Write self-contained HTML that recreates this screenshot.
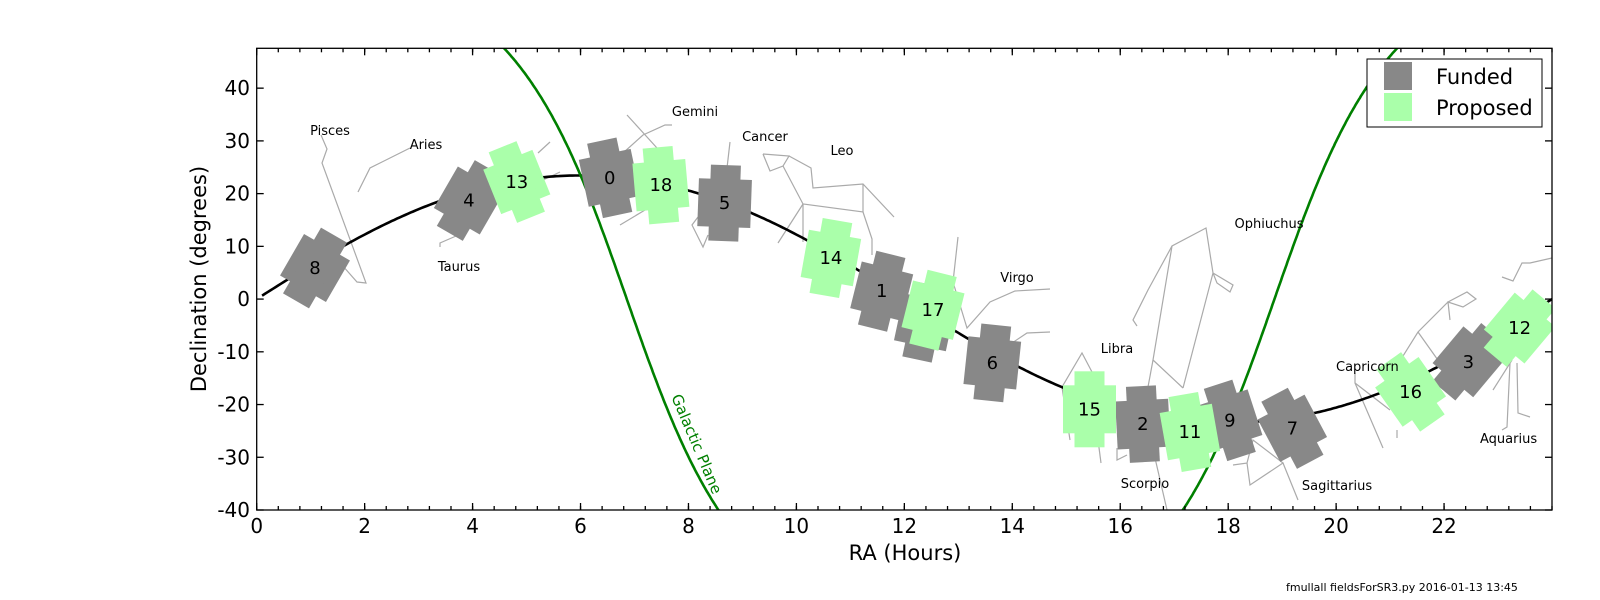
<!DOCTYPE html>
<html><head><meta charset="utf-8"><style>
html,body{margin:0;padding:0;background:#fff;width:1600px;height:600px;overflow:hidden}
svg{display:block}
text{font-family:"DejaVu Sans","Liberation Sans",sans-serif}
</style></head><body>
<svg id="chart" width="1600" height="600" viewBox="0 0 1600 600" xmlns="http://www.w3.org/2000/svg">
<defs><clipPath id="plotclip"><rect x="256.7" y="48.3" width="1295.3" height="461.7"/></clipPath></defs>
<g id="constellations" clip-path="url(#plotclip)" fill="none" stroke="#aaaaaa" stroke-width="1.2">
<polyline points="321,135 327,149 322,163 366,283 357,282 342,265"/>
<polyline points="410,148 370,168 358,192"/>
<polyline points="440,247 440,243 463,233"/>
<polyline points="538,153 550,142"/>
<polyline points="543,180 560,172"/>
<polyline points="627,115 657,148"/>
<polyline points="623,153 643,135 665,125 672,125"/>
<polyline points="620,225 645,210"/>
<polyline points="730,142 727,168"/>
<polyline points="698,217 692,225 703,247 708,235"/>
<polyline points="763,154 789,156 783,166 770,171 763,154"/>
<polyline points="789,156 811,168 813,188 863,184 894,217"/>
<polyline points="863,184 863,212 803,204 783,166"/>
<polyline points="803,204 803,242"/>
<polyline points="803,204 778,243"/>
<polyline points="863,212 872,239 872,255"/>
<polyline points="958,237 953,282 967,328 990,302 1015,291 1050,289"/>
<polyline points="1012,343 1027,333 1050,332"/>
<polyline points="1137,326 1133,320 1148,290 1172,246 1206,228 1213,273 1233,285 1230,292 1217,283 1213,273 1183,388"/>
<polyline points="1172,246 1153,360 1183,388"/>
<polyline points="1153,360 1148,387"/>
<polyline points="1062,387 1082,353 1092,372"/>
<polyline points="1062,387 1070,440"/>
<polyline points="1098,440 1101,463"/>
<polyline points="1117,448 1117,460 1127,455"/>
<polyline points="1155,458 1167,510"/>
<polyline points="1233,465 1247,463 1250,485 1283,463 1253,440 1247,463"/>
<polyline points="1283,463 1298,500"/>
<polyline points="1355,373 1355,383 1383,448"/>
<polyline points="1355,383 1390,410"/>
<polyline points="1397,430 1397,438"/>
<polyline points="1388,380 1418,332 1448,302 1467,292 1476,299 1463,307 1448,302 1450,320"/>
<polyline points="1418,332 1440,363"/>
<polyline points="1502,277 1513,281 1522,263 1530,263 1552,258"/>
<polyline points="1510,363 1507,427 1502,430"/>
<polyline points="1517,363 1518,413 1530,417"/>
<polyline points="1512,360 1493,390"/>
</g>
<g id="curves" clip-path="url(#plotclip)"></g>
<g id="fields" clip-path="url(#plotclip)"></g>
<g id="labels" font-size="13" fill="#000">
<text x="330" y="135" text-anchor="middle">Pisces</text>
<text x="426" y="149" text-anchor="middle">Aries</text>
<text x="459" y="271" text-anchor="middle">Taurus</text>
<text x="695" y="116" text-anchor="middle">Gemini</text>
<text x="765" y="141" text-anchor="middle">Cancer</text>
<text x="842" y="155" text-anchor="middle">Leo</text>
<text x="1017" y="282" text-anchor="middle">Virgo</text>
<text x="1117" y="353" text-anchor="middle">Libra</text>
<text x="1269" y="228" text-anchor="middle">Ophiuchus</text>
<text x="1145" y="488" text-anchor="middle">Scorpio</text>
<text x="1337" y="490" text-anchor="middle">Sagittarius</text>
<text x="1336" y="371">Capricorn</text>
<text x="1480" y="443">Aquarius</text>
</g>
<g id="axes"></g>
<g id="legend">
<rect x="1367" y="59" width="175" height="68" fill="#fff" stroke="#000" stroke-width="1"/>
<rect x="1384" y="62" width="28" height="28" fill="#888888"/>
<rect x="1384" y="93" width="28" height="28" fill="#aaffaa"/>
<text x="1436" y="84" font-size="21">Funded</text>
<text x="1436" y="115" font-size="21">Proposed</text>
</g>
<text x="905" y="560" font-size="21" text-anchor="middle">RA (Hours)</text>
<text x="206" y="279" font-size="21" text-anchor="middle" transform="rotate(-90 206 279)">Declination (degrees)</text>
<text x="1286" y="591" font-size="11">fmullall fieldsForSR3.py 2016-01-13 13:45</text>
</svg>
<script>
const fieldIds = ["8","4","0","5","1","","6","2","9","7","3","13","18","14","17","15","11","16","12"];
const fieldRa = [1.08,3.93,6.54,8.67,11.58,12.38,13.63,16.42,18.03,19.19,22.45,4.82,7.49,10.64,12.53,15.43,17.29,21.38,23.4];
const fieldDec = [5.9,18.7,23.0,18.2,1.5,-4.4,-12.1,-23.7,-23.0,-24.5,-11.9,22.2,21.6,7.8,-2.1,-20.9,-25.2,-17.6,-5.5];
const fieldStatus = ["F","F","F","F","F","F","F","F","F","F","F","P","P","P","P","P","P","P","P"];
const fieldRoll = [30,30,-12,2,14,12,6,-3,-18,-28,40,-22,-5,10,14,0,-10,-35,40];
const xTicks = [0,2,4,6,8,10,12,14,16,18,20,22];
const yTicks = [-40,-30,-20,-10,0,10,20,30,40];
const raRange = [0,24];
const decRange = [-40,47.56];
const eclipticTilt = 23.44;
const galPoleRa = 192.86, galPoleDec = 27.13;

const NS="http://www.w3.org/2000/svg";
const X0=256.7, X1=1552, Y0=510, Y1=48.3;
function xs(ra){return X0+(ra-raRange[0])/(raRange[1]-raRange[0])*(X1-X0);}
function ys(d){return Y0-(d-decRange[0])/(decRange[1]-decRange[0])*(Y0-Y1);}
function mk(tag,attrs,parent){const e=document.createElementNS(NS,tag);for(const k in attrs)e.setAttribute(k,attrs[k]);parent.appendChild(e);return e;}
const R=Math.PI/180;
const curves=document.getElementById('curves');
let p=[];
for(let ra=0.1;ra<=24.001;ra+=0.05){const d=Math.atan(Math.sin(ra*15*R)*Math.tan(eclipticTilt*R))/R;p.push(xs(ra).toFixed(1)+','+ys(d).toFixed(1));}
const ecl=mk('polyline',{points:p.join(' '),fill:'none',stroke:'#000','stroke-width':2.6},curves);


p=[];
for(let ra=0;ra<=24.001;ra+=0.02){const d=Math.atan(-Math.cos((ra*15-galPoleRa)*R)/Math.tan(galPoleDec*R))/R;p.push(xs(ra).toFixed(1)+','+ys(d).toFixed(1));}
const gal=mk('polyline',{points:p.join(' '),fill:'none',stroke:'#008000','stroke-width':2.6},curves);


const gl=mk('text',{x:692,y:446,'font-size':15,fill:'#008000','text-anchor':'middle',transform:'rotate(67 692 446)'},document.getElementById('chart'));


gl.textContent='Galactic Plane';
const fg=document.getElementById('fields');
const order=[...fieldIds.keys()];
order.forEach(i=>{
  const cx=xs(fieldRa[i]), cy=ys(fieldDec[i]);
  const col=fieldStatus[i]==="F"?"#888888":"#aaffaa";
  const g=mk('g',{transform:`translate(${cx.toFixed(1)},${cy.toFixed(1)})`},fg);
  
  
  const sh=mk('g',{transform:`rotate(${fieldRoll[i]})`},g);
  mk('rect',{x:-26.5,y:-24,width:53,height:48,fill:col},sh);
  mk('rect',{x:-15,y:-38,width:30,height:76,fill:col},sh);
  if(fieldIds[i]){const t=mk('text',{x:0,y:6,'font-size':18,'text-anchor':'middle',fill:'#000'},g);t.textContent=fieldIds[i];}
});
const ax=document.getElementById('axes');
const frame=mk('rect',{x:X0,y:Y1,width:X1-X0,height:Y0-Y1,fill:'none',stroke:'#000','stroke-width':1.3},ax);


for(let v=0;v<=24.001;v+=0.4){const x=xs(v);
  mk('line',{x1:x,y1:Y0,x2:x,y2:Y0-4,stroke:'#000','stroke-width':1.3},ax);
  mk('line',{x1:x,y1:Y1,x2:x,y2:Y1+4,stroke:'#000','stroke-width':1.3},ax);}
xTicks.forEach(v=>{const x=xs(v);
  mk('line',{x1:x,y1:Y0,x2:x,y2:Y0-7,stroke:'#000','stroke-width':1.3},ax);
  mk('line',{x1:x,y1:Y1,x2:x,y2:Y1+7,stroke:'#000','stroke-width':1.3},ax);
  const t=mk('text',{x:x,y:533,'font-size':20,'text-anchor':'middle'},ax);
  
  
  t.textContent=v;});
yTicks.forEach(v=>{const y=ys(v);
  mk('line',{x1:X0,y1:y,x2:X0+7,y2:y,stroke:'#000','stroke-width':1.3},ax);
  mk('line',{x1:X1,y1:y,x2:X1-7,y2:y,stroke:'#000','stroke-width':1.3},ax);
  const t=mk('text',{x:250,y:y+7,'font-size':20,'text-anchor':'end'},ax);
  
  
  t.textContent=v;});
</script>
</body></html>
